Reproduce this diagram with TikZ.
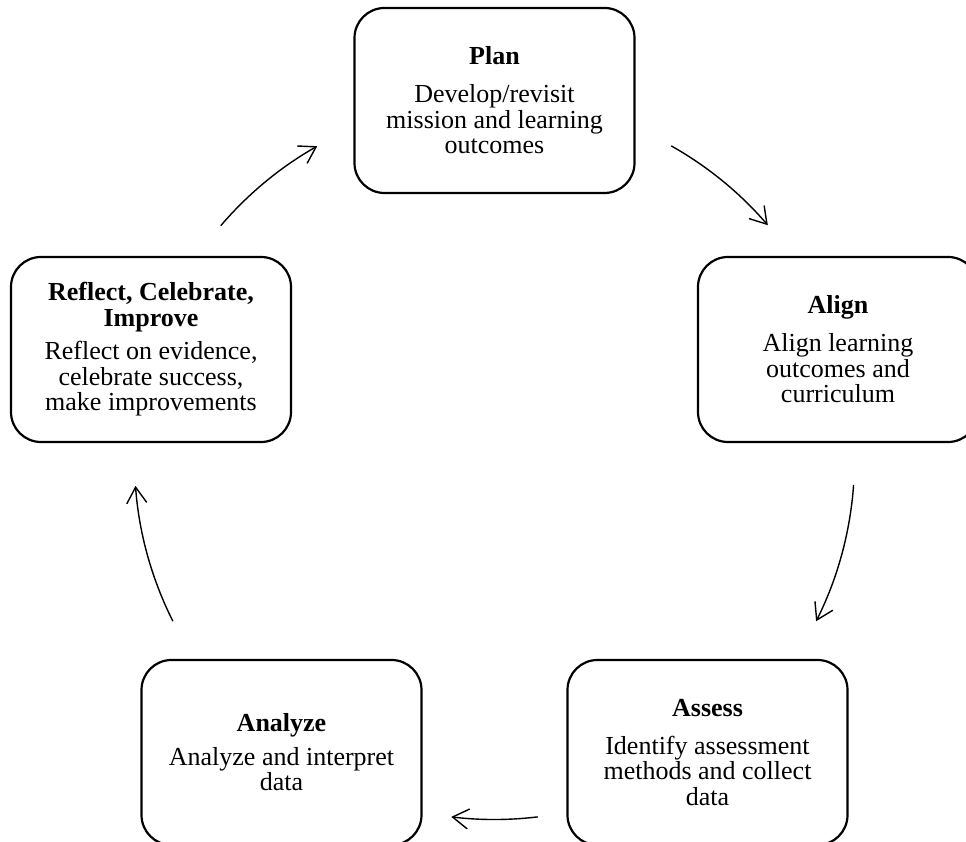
\documentclass[tikz,border=0pt]{standalone}
\usepackage{fontspec}
\setmainfont{Liberation Serif}
\usetikzlibrary{arrows.meta}
\tikzset{
  stage/.style={draw=black, line width=2.2pt, rounded corners=30pt,
    minimum width=280pt, minimum height=185pt, inner sep=0pt,
    align=center, font=\fontsize{26}{25.5}\selectfont},
  cyc/.style={line width=1.4pt, -{Straight Barb[length=16pt,width=20pt]}, looseness=0.86}
}
\begin{document}
\begin{tikzpicture}[x=1pt,y=1pt]
\useasboundingbox (0,0) rectangle (966,842);
\clip (0,0) rectangle (966,842);
\coordinate (ctr) at (494.5,382.5);

\node[stage] (plan) at (494.5,741.5)
  {\textbf{Plan}\\[12.5pt]Develop/revisit\\mission and learning\\outcomes};
\node[stage] (align) at (838,492.5)
  {\textbf{Align}\\[12.5pt]Align learning\\outcomes and\\curriculum};
\node[stage] (assess) at (707.5,89.5)
  {\textbf{Assess}\\[12.5pt]Identify assessment\\methods and collect\\data};
\node[stage] (analyze) at (281.5,89.5)
  {\textbf{Analyze}\\[8pt]Analyze and interpret\\data};
\node[stage] (reflect) at (151,492.5)
  {\textbf{Reflect, Celebrate,}\\\textbf{Improve}\\[8pt]Reflect on evidence,\\celebrate success,\\make improvements};

\coordinate (a1s) at ([shift={(139.5:360)}]ctr);
\coordinate (a1e) at ([shift={(119.5:360)}]ctr);
\coordinate (a2s) at ([shift={(60.6:360)}]ctr);
\coordinate (a2e) at ([shift={(40.6:360)}]ctr);
\coordinate (a3s) at ([shift={(-4.1:360)}]ctr);
\coordinate (a3e) at ([shift={(-26.7:360)}]ctr);
\coordinate (a4s) at ([shift={(-83.1:360)}]ctr);
\coordinate (a4e) at ([shift={(-96.9:360)}]ctr);
\coordinate (a5s) at ([shift={(206.7:360)}]ctr);
\coordinate (a5e) at ([shift={(184.2:360)}]ctr);

\draw[cyc] (a1s) to[bend left=10] (a1e);
\draw[cyc] (a2s) to[bend left=10] (a2e);
\draw[cyc] (a3s) to[bend left=11.3] (a3e);
\draw[cyc] (a4s) to[bend left=6.9] (a4e);
\draw[cyc] (a5s) to[bend left=11.25] (a5e);
\end{tikzpicture}
\end{document}
